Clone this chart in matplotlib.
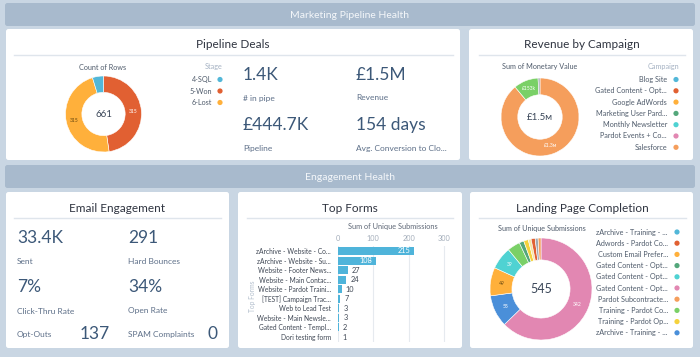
import matplotlib
matplotlib.use("Agg")
import matplotlib.pyplot as plt
from matplotlib.patches import FancyBboxPatch, Circle

plt.rcParams['font.family'] = ['Lato', 'DejaVu Sans']

# ---------------- data ----------------
stage_names = ["4-SQL", "5-Won", "6-Lost"]
stage_counts = [31, 315, 315]
stage_colors = ["#52b7d8", "#e16032", "#ffb03b"]
stage_labels = ["", "315", "315"]
stage_label_colors = ["white", "white", "#6b4a10"]
donut_order = [1, 2, 0]

pipe_kpi_values = ["1.4K", "£1.5M", "£444.7K", "154 days"]
pipe_kpi_names = ["# in pipe", "Revenue", "Pipeline", "Avg. Conversion to Clo..."]

campaign_names = ["Blog Site", "Gated Content - Opt...", "Google AdWords",
                  "Marketing User Pard...", "Monthly Newsletter",
                  "Pardot Events + Co...", "Salesforce"]
campaign_colors = ["#52b7d8", "#e16032", "#ffb03b", "#54a77b", "#4fd2d2",
                   "#e287b2", "#f59e5c"]
rev_slice_values = [1330, 153, 12]          # thousands
rev_slice_colors = ["#f59e5c", "#7ad067", "#a3a9b0"]
rev_slice_labels = ["£1.3м", "£153k", ""]

email_kpi_values = ["33.4K", "291", "7%", "34%"]
email_kpi_names = ["Sent", "Hard Bounces", "Click-Thru Rate", "Open Rate"]
optouts = "137"
spam = "0"

form_names = ["zArchive - Website - Co...", "zArchive - Website - Su...",
              "Website - Footer News...", "Website - Main Contac...",
              "Website - Pardot Traini...", "[TEST] Campaign Trac...",
              "Web to Lead Test", "Website - Main Newsle...",
              "Gated Content - Templ...", "Dori testing form"]
form_values = [215, 108, 27, 24, 10, 7, 3, 3, 2, 1]
form_ticks = [0, 100, 200, 300]

lp_legend_names = ["zArchive - Training - ...", "Adwords - Pardot Co...",
                   "Custom Email Prefer...", "Gated Content - Opt...",
                   "Gated Content - Opt...", "Gated Content - Opt...",
                   "Pardot Subcontracte...", "Training - Pardot Co...",
                   "Training - Pardot Op...", "zArchive - Training - ..."]
lp_legend_colors = ["#52b7d8", "#e16032", "#ffb03b", "#54a77b", "#4fd2d2",
                    "#e287b2", "#f59e5c", "#7ad067", "#f5d23c", "#4a8fd9"]
lp_slice_values = [342, 55, 49, 39, 22, 8, 8, 5, 7, 5, 5]
lp_slice_colors = ["#e287b2", "#4a8fd9", "#ffb03b", "#4fd2d2", "#7ad067",
                   "#54a77b", "#f5d23c", "#f6e7a0", "#e16032", "#a3a9b0",
                   "#f59e5c"]
lp_slice_labels = ["342", "55", "49", "39", "", "", "", "", "", "", ""]
lp_label_colors = ["white", "white", "#6b4a10", "white"] + ["white"] * 7

# ---------------- layout ----------------
W, H = 700, 357
fig = plt.figure(figsize=(7, 3.57), dpi=100)
fig.patch.set_facecolor("#c9d6e3")
bg = fig.add_axes([0, 0, 1, 1])
bg.set_xlim(0, W)
bg.set_ylim(H, 0)
bg.axis("off")

HEAD = "#a8bacd"
TITLE_C = "#2f3440"
KPI_C = "#3c5878"
LBL_C = "#5d6f88"
LEG_C = "#4f5b6b"
LEG_HEAD = "#a4b1c2"
SEP = "#dfe5ec"


def rbox(x0, y0, x1, y1, fc, r=2.5):
    bg.add_patch(FancyBboxPatch((x0, y0), x1 - x0, y1 - y0,
                                boxstyle=f"round,pad=0,rounding_size={r}",
                                fc=fc, ec="none"))


def faxes(x0, y0, x1, y1):
    return fig.add_axes([x0 / W, 1 - y1 / H, (x1 - x0) / W, (y1 - y0) / H])


# headers
rbox(5, 3, 695, 26, HEAD)
bg.text(350, 15, "Marketing Pipeline Health", ha="center", va="center",
        color="#f4f7fa", fontsize=7.5)
rbox(5, 165, 695, 188, HEAD)
bg.text(350, 177, "Engagement Health", ha="center", va="center",
        color="#f4f7fa", fontsize=7.5)

# panels
rbox(6, 29, 460, 160, "white")
rbox(469, 29, 693, 160, "white")
rbox(6, 192, 229, 348, "white")
rbox(238, 192, 462, 348, "white")
rbox(470, 192, 693, 348, "white")

# titles & separators
for x, y, t, xa, xb in [(233, 45, "Pipeline Deals", 14, 453),
                        (582, 45, "Revenue by Campaign", 479, 685),
                        (117, 208, "Email Engagement", 14, 221),
                        (350, 208, "Top Forms", 247, 453),
                        (582, 208, "Landing Page Completion", 479, 686)]:
    bg.text(x, y, t, ha="center", va="center", color=TITLE_C, fontsize=8.5)
    bg.plot([xa, xb], [y + 9.5, y + 9.5], color=SEP, lw=1)


def legend(names, colors, xr, xm, y0, dy, head=None, hx=None, hy=None, fs=5.2):
    if head:
        bg.text(hx, hy, head, ha="right", va="center", color=LEG_HEAD, fontsize=fs)
    for i, (n, c) in enumerate(zip(names, colors)):
        y = y0 + i * dy
        bg.text(xr, y, n, ha="right", va="center", color=LEG_C, fontsize=fs)
        bg.add_patch(Circle((xm, y), 2.6, fc=c, ec="none"))


def donut(cx, cy, r, vals, cols, labels, lcols, startangle, center, cfs, lfs=3.6):
    ax = faxes(cx - r, cy - r, cx + r, cy + r)
    wedges, texts = ax.pie(vals, colors=cols, startangle=startangle,
                           counterclock=False, labels=labels,
                           labeldistance=0.78,
                           wedgeprops=dict(width=0.43, edgecolor="white",
                                           linewidth=0.4),
                           textprops=dict(fontsize=lfs, ha="center",
                                          va="center"))
    for t, c in zip(texts, lcols):
        t.set_color(c)
        t.set_horizontalalignment("center")
    ax.set_xlim(-1, 1)
    ax.set_ylim(-1, 1)
    ax.text(0, 0, center, ha="center", va="center", color="#3a4658",
            fontsize=cfs)
    return ax


# ---- Pipeline Deals ----
bg.text(103, 67, "Count of Rows", ha="center", va="center", color=LEG_C, fontsize=5.2)
donut(103.5, 114, 38,
      [stage_counts[i] for i in donut_order],
      [stage_colors[i] for i in donut_order],
      [stage_labels[i] for i in donut_order],
      [stage_label_colors[i] for i in donut_order],
      90, "661", 7)
legend(stage_names, stage_colors, 212, 220, 79.5, 11.5, "Stage", 223, 67)

kx = [243, 356]
for i, (v, n) in enumerate(zip(pipe_kpi_values, pipe_kpi_names)):
    x = kx[i % 2]
    y = 75 + (i // 2) * 50
    bg.text(x, y, v, ha="left", va="center", color=KPI_C, fontsize=12.5)
    bg.text(x, y + 23, n, ha="left", va="center", color=LBL_C, fontsize=6)

# ---- Revenue by Campaign ----
bg.text(540, 67, "Sum of Monetary Value", ha="center", va="center", color=LEG_C, fontsize=5.2)
donut(540, 117, 39, rev_slice_values, rev_slice_colors, rev_slice_labels,
      ["white", "white", "white"], 90, "£1.5м", 7)
legend(campaign_names, campaign_colors, 667, 676, 79.5, 11.3, "Campaign", 679, 67)

# ---- Email Engagement ----
ex = [17, 128]
for i, (v, n) in enumerate(zip(email_kpi_values, email_kpi_names)):
    x = ex[i % 2]
    y = 238 + (i // 2) * 49
    bg.text(x, y, v, ha="left", va="center", color=KPI_C, fontsize=12.5)
    bg.text(x, y + 24, n, ha="left", va="center", color=LBL_C, fontsize=6)
bg.text(17, 335, "Opt-Outs", ha="left", va="center", color=LBL_C, fontsize=6)
bg.text(80, 334, optouts, ha="left", va="center", color=KPI_C, fontsize=12.5)
bg.text(128, 335, "SPAM Complaints", ha="left", va="center", color=LBL_C, fontsize=6)
bg.text(207, 334, spam, ha="left", va="center", color=KPI_C, fontsize=12.5)

# ---- Top Forms ----
axb = faxes(338, 246.2, 447.5, 341.8)
ypos = list(range(len(form_values)))
axb.barh(ypos, form_values, height=0.84, color="#4fb4da", zorder=2)
axb.set_xlim(0, 310)
axb.set_ylim(len(form_values) - 0.5, -0.5)
axb.set_yticks(ypos)
axb.set_yticklabels(form_names, fontsize=4.8, color="#3f4754")
axb.set_xticks(form_ticks)
axb.set_xticklabels([str(t) for t in form_ticks], fontsize=5.3, color="#a3adba")
axb.xaxis.tick_top()
axb.xaxis.set_label_position("top")
axb.set_xlabel("Sum of Unique Submissions", fontsize=5.3, color="#5d6675", labelpad=4)
axb.tick_params(axis="both", length=0)
axb.tick_params(axis="y", pad=5)
axb.tick_params(axis="x", pad=3)
axb.grid(axis="x", color="#e6eaef", lw=0.8, zorder=0)
for s in axb.spines.values():
    s.set_visible(False)
for i, v in enumerate(form_values):
    if v > 50:
        axb.annotate(str(v), (v, i), xytext=(-2.5, 0), textcoords="offset points",
                     ha="right", va="center", color="white", fontsize=5.3)
    else:
        axb.annotate(str(v), (v, i), xytext=(3, 0), textcoords="offset points",
                     ha="left", va="center", color="#3f4754", fontsize=5.3)
bg.text(252.5, 296, "Top Forms", rotation=90, ha="center", va="center",
        color="#b3bfcd", fontsize=4.8)

# ---- Landing Page Completion ----
bg.text(542, 229, "Sum of Unique Submissions", ha="center", va="center", color=LEG_C, fontsize=5.2)
donut(541, 289, 51, lp_slice_values, lp_slice_colors, lp_slice_labels,
      lp_label_colors, 90, "545", 9)
legend(lp_legend_names, lp_legend_colors, 668, 677, 232, 11.2)

fig.savefig("out.png", dpi=100, facecolor=fig.get_facecolor())
